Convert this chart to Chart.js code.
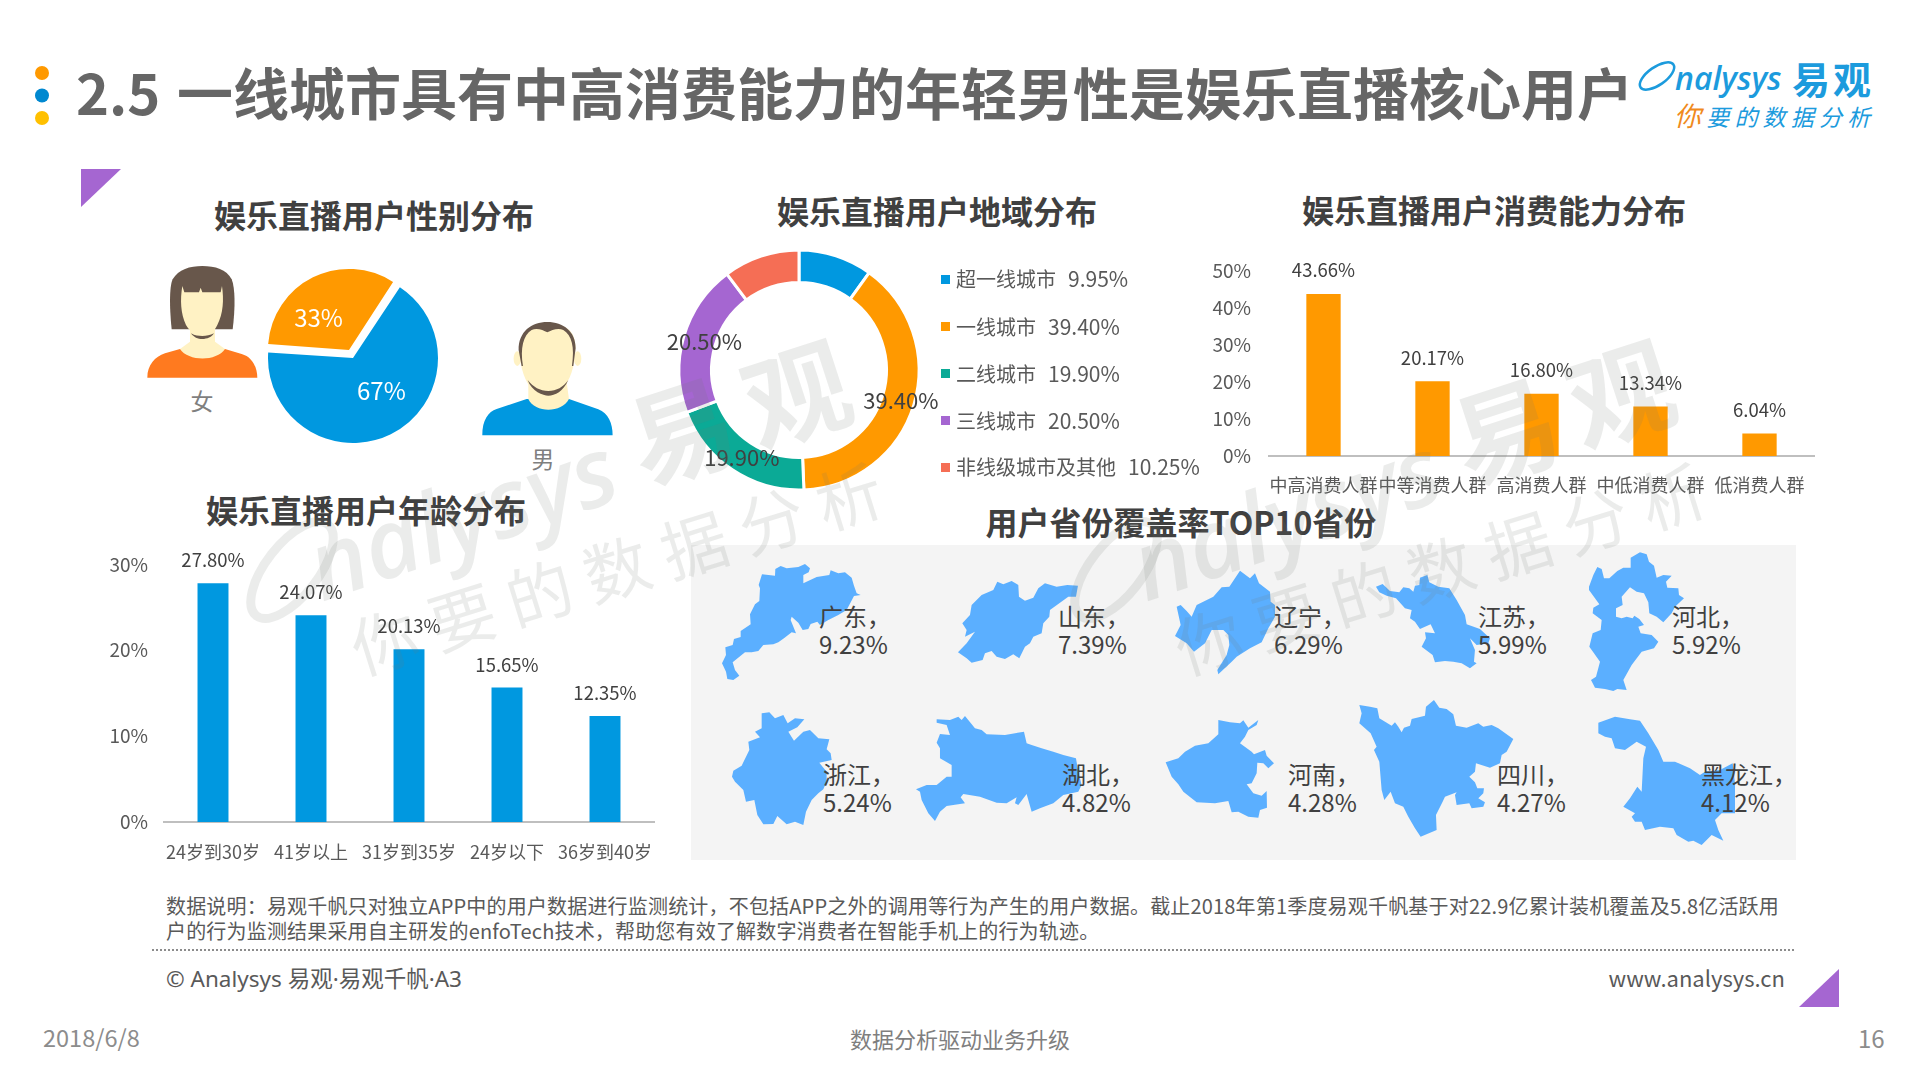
<!DOCTYPE html>
<html lang="zh-CN">
<head>
<meta charset="utf-8">
<title>2.5 一线城市具有中高消费能力的年轻男性是娱乐直播核心用户</title>
<script src="https://cdn.jsdelivr.net/npm/chart.js@4"></script>
<style>
    html, body { margin: 0; background: #fff; }
    #page {
        position: relative; width: 1920px; height: 1080px; overflow: hidden;
        font-family: "Noto Sans CJK SC", "Noto Sans", sans-serif; color: #595959;
    }
    #page > * { position: absolute; }
    canvas { display: block; }
    .t { white-space: pre; line-height: 1; transform: translateY(-50%); }
    .c { transform: translate(-50%, -50%); }
    .h2 { font-size: 32px; font-weight: 700; color: #404040; }
    .prov { font-size: 24px; line-height: 28px; color: #404040; white-space: pre; }
    .leg { font-size: 20px; }
    .leg span { font-size: 21px; margin-left: 12px; }
    .note { font-size: 20px; letter-spacing: 0.18px; }
    .mark { width: 9px; height: 9px; }
    #decor, #watermark { left: 0; top: 0; }
    #watermark { pointer-events: none; }
</style>
</head>
<body>
<div id="page">
    <!-- ornaments, figures and province outlines, below the charts -->
    <svg id="decor" width="1920" height="1080">
        <circle cx="42" cy="73" r="7" fill="#ff9900"/>
        <circle cx="42" cy="95.5" r="7" fill="#0088d0"/>
        <circle cx="42" cy="118" r="7" fill="#ffc000"/>
        <polygon points="81,169 121,169 81,207" fill="#a566d1"/>
        <polygon points="1839,969 1839,1007 1799,1007" fill="#a566d1"/>
        <rect x="691" y="545" width="1105" height="315" fill="#f4f4f4"/>
        <line x1="152" y1="950" x2="1794" y2="950" stroke="#8c8c8c" stroke-width="2" stroke-dasharray="2 2"/>

        <!-- logo -->
        <g fill="#1c9bdd">
            <ellipse cx="1657" cy="76" rx="20" ry="9" fill="none" stroke="#1c9bdd" stroke-width="2.5" transform="rotate(-35 1657 76)"/>
            <text x="1675" y="90" font-family="Open Sans" font-style="italic" font-weight="600" font-size="32">nalysys</text>
            <text x="1792" y="94" font-size="38" font-weight="700" letter-spacing="3">易观</text>
            <text x="1674" y="126" font-size="23" font-style="italic" letter-spacing="5.2"><tspan fill="#f08a1d" font-size="27">你</tspan>要的数据分析</text>
        </g>

        <!-- female figure -->
        <g transform="translate(130,250) scale(0.3333)">
            <path d="M125 238C118 170 118 110 128 88C145 58 180 48 217 48C255 48 290 58 305 88C316 115 316 175 308 238Z" fill="#68574b"/>
            <path d="M52 383C52 345 75 320 105 310L150 297L285 297L335 312C365 320 382 350 382 383Z" fill="#ff7a1f"/>
            <path d="M180 235L180 275L150 297C175 335 260 335 285 297L255 275L255 235Z" fill="#fff2c4"/>
            <path d="M157 108L163 127L207 127L212 113L217 127L272 127L276 108C282 150 280 190 262 225C250 250 230 262 217 262C200 262 180 245 168 225C152 190 150 150 157 108Z" fill="#fff2c4"/>
            <path d="M183 250C195 258 205 258 217 258C230 258 240 256 252 250C240 270 200 276 183 250Z" fill="#68574b"/>
        </g>

        <!-- male figure -->
        <g transform="translate(130,250) scale(0.3333)">
            <ellipse cx="1162" cy="326" rx="11" ry="22" fill="#fff2c4"/>
            <ellipse cx="1343" cy="326" rx="11" ry="22" fill="#fff2c4"/>
            <path d="M1057 556C1057 510 1075 485 1100 477L1190 447L1317 447L1405 478C1435 490 1448 520 1448 556Z" fill="#0098e0"/>
            <path d="M1195 395L1195 447C1215 490 1295 490 1317 447L1310 395Z" fill="#fff2c4"/>
            <path d="M1168 300C1170 350 1185 400 1210 420C1235 435 1270 435 1295 418C1320 395 1335 350 1337 290C1335 235 1300 220 1252 222C1205 222 1170 240 1168 300Z" fill="#fff2c4"/>
            <path d="M1175 348L1166 300C1165 245 1205 216 1252 216C1300 216 1338 245 1337 295L1330 348L1326 348C1335 290 1325 255 1300 240C1285 232 1265 240 1252 247C1240 240 1220 232 1205 240C1180 255 1170 295 1179 348Z" fill="#68574b"/>
            <path d="M1193 390C1205 425 1240 437 1255 437C1275 437 1300 425 1315 390C1300 412 1280 422 1255 423C1230 422 1210 412 1193 390Z" fill="#68574b"/>
        </g>

        <!-- province outlines, traced roughly -->
        <g fill="#5bafff">
            <g transform="translate(710,555) scale(0.3333)">
                <path d="M36 325L48 300L46 277L68 270L72 252L92 246L92 228L122 208L120 178L135 148L148 138L150 100L146 90L156 58L195 62L196 42L212 33L230 40L265 36L285 27L300 40L296 52L280 60L280 85L320 66L358 60L362 46L385 55L405 52L425 68L432 92L440 115L452 120L432 123L410 165L385 180L355 195L330 210L322 200L302 207L295 222L278 225L265 203L245 185L242 195L258 235L245 232L222 250L205 262L190 268L160 270L145 288L125 292L105 292L68 322L75 345L88 362L70 375L52 372L48 350Z"/>
                <path d="M744 292L770 265L795 230L765 245L770 225L757 205L780 180L785 150L815 120L850 105L862 80L880 88L905 78L925 90L927 125L945 137L970 128L985 100L1005 85L1040 95L1072 90L1104 92L1098 125L1075 125L1020 165L1018 185L1000 205L995 235L970 245L960 265L945 275L928 310L910 298L885 312L860 305L845 288L825 295L818 315L785 323L770 310Z"/>
            </g>
            <g transform="translate(1160,555) scale(0.3333)">
                <path d="M45 243L62 210L50 155L62 150L80 168L95 185L110 150L160 125L185 97L208 95L240 47L270 70L285 55L297 85L330 110L332 140L345 150L345 185L325 220L305 262L270 280L230 305L215 320L175 358L172 345L200 300L208 270L205 240L190 225L155 225L135 265L102 290L80 265Z"/>
                <path d="M648 95L668 87L690 108L718 112L730 97L748 100L760 110L765 92L778 90L780 68L802 60L808 82L835 95L868 100L890 135L915 180L920 208L960 222L990 250L985 265L950 270L930 250L945 285L942 320L950 325L930 340L905 325L880 320L855 318L825 322L818 300L785 275L798 250L795 232L825 235L812 208L780 222L765 200L750 190L755 165L735 160L708 130L680 122L658 112Z"/>
            </g>
            <g transform="translate(1580,545) scale(0.3333)">
                <path d="M27 125L40 90L52 66L65 72L72 100L88 100L112 78L130 68L152 68L152 38L180 22L200 28L207 50L222 62L230 98L250 90L275 92L258 110L262 128L295 130L297 150L312 160L285 185L275 205L250 232L230 215L208 205L205 172L192 145L170 140L150 127L125 155L128 180L108 190L108 215L125 220L140 215L158 220L163 212L178 222L192 240L175 245L182 265L215 270L235 290L222 310L185 320L155 360L130 405L140 435L112 432L100 438L75 432L45 428L33 405L48 395L60 350L42 325L28 305L38 265L62 255L65 225L38 205L40 188L58 178L27 135Z"/>
            </g>
            <g transform="translate(720,700) scale(0.3333)">
                <path d="M36 230L40 212L65 197L88 150L85 125L120 112L105 95L125 85L125 40L148 37L165 55L190 45L203 70L225 55L253 58L232 82L205 95L222 122L250 95L270 90L295 115L328 118L320 148L332 160L335 180L298 188L320 215L320 245L310 268L295 280L275 300L258 335L250 375L225 365L200 373L172 348L160 372L130 373L112 345L103 300L78 305L70 270L45 245Z"/>
                <path d="M588 268L620 255L650 255L680 230L695 230L695 195L660 175L660 145L650 128L660 102L690 105L680 75L650 68L650 58L690 60L715 50L725 60L735 48L765 85L785 90L800 103L855 105L912 95L920 130L935 135L965 145L1000 155L1030 165L1068 175L1075 215L1085 255L1075 275L1030 285L1000 310L960 325L935 335L925 300L920 282L895 315L885 310L890 292L860 310L830 308L780 290L730 282L722 292L735 310L700 315L680 318L660 335L645 363L625 340L605 300L600 275Z"/>
            </g>
            <g transform="translate(1150,695) scale(0.3333)">
                <path d="M47 202L85 190L105 170L135 152L175 145L205 118L205 75L240 82L270 85L280 76L295 98L325 75L320 90L295 105L285 125L270 145L305 170L312 178L345 165L350 182L372 205L355 220L340 205L322 203L320 235L305 265L290 268L310 295L335 302L350 288L351 338L330 345L325 368L295 365L265 350L245 352L235 318L195 325L140 322L100 290L85 268L65 245Z"/>
                <path d="M628 30L660 35L682 40L688 70L725 92L735 82L745 95L755 112L762 98L780 92L785 72L825 62L828 35L852 15L868 38L890 42L910 58L918 92L950 98L985 85L1000 95L1025 90L1045 100L1090 132L1070 170L1055 180L1050 205L1020 218L978 205L975 230L958 245L975 262L982 280L1002 280L1000 295L985 310L1005 322L1000 335L965 340L958 325L920 330L915 300L920 292L885 305L878 320L858 360L860 405L812 425L795 400L775 365L760 335L735 325L722 290L703 315L695 285L688 200L672 165L680 155L662 115L628 85L635 55Z"/>
            </g>
            <g transform="translate(1580,700) scale(0.3333)">
                <path d="M55 68L105 50L150 58L180 62L205 100L235 150L250 185L285 185L330 205L360 225L375 215L420 210L458 190L465 250L465 340L425 340L405 360L415 390L430 422L395 405L365 435L340 422L325 425L290 405L280 385L240 380L195 390L185 365L165 365L155 350L165 340L130 320L150 295L172 260L185 275L190 175L198 140L170 125L135 150L105 145L95 115L75 110L55 100Z"/>
            </g>
        </g>
    </svg>

    <div class="t" style="left:76px;top:91px;font-size:56px;font-weight:700;color:#666;word-spacing:4px">2.5 一线城市具有中高消费能力的年轻男性是娱乐直播核心用户</div>

    <div class="t c h2" style="left:374px;top:214px">娱乐直播用户性别分布</div>
    <div class="t c h2" style="left:937px;top:210px">娱乐直播用户地域分布</div>
    <div class="t c h2" style="left:1494px;top:209px">娱乐直播用户消费能力分布</div>
    <div class="t c h2" style="left:366px;top:509px">娱乐直播用户年龄分布</div>
    <div class="t c h2" style="left:1181px;top:521px">用户省份覆盖率TOP10省份</div>

    <div class="t c" style="left:202px;top:400px;font-size:23px;color:#7f7f7f">女</div>
    <div class="t c" style="left:543px;top:458px;font-size:23px;color:#7f7f7f">男</div>

    <canvas id="genderChart" width="190" height="190" style="left:256px;top:259px"></canvas>
    <canvas id="regionChart" width="300" height="250" style="left:649px;top:245px"></canvas>
    <canvas id="spendChart" width="640" height="269" style="left:1200px;top:241px"></canvas>
    <canvas id="ageChart" width="590" height="338" style="left:90px;top:537px"></canvas>

    <div class="t note" style="left:166px;top:906px">数据说明：易观千帆只对独立APP中的用户数据进行监测统计，不包括APP之外的调用等行为产生的用户数据。截止2018年第1季度易观千帆基于对22.9亿累计装机覆盖及5.8亿活跃用</div>
    <div class="t note" style="left:166px;top:931px">户的行为监测结果采用自主研发的enfoTech技术，帮助您有效了解数字消费者在智能手机上的行为轨迹。</div>
    <div class="t" style="left:166px;top:979px;font-size:22.5px;font-family:'Noto Sans','Noto Sans CJK SC',sans-serif">© Analysys 易观·易观千帆·A3</div>
    <div class="t" style="right:135px;top:977px;font-size:22px">www.analysys.cn</div>
    <div class="t" style="left:43px;top:1038px;font-size:23.5px;color:#8c8c8c">2018/6/8</div>
    <div class="t c" style="left:960px;top:1038px;font-size:22px;color:#7f7f7f">数据分析驱动业务升级</div>
    <div class="t" style="left:1858px;top:1038px;font-size:24px;color:#8c8c8c">16</div>

    <!-- watermark sits over everything, it darkens the bars in the reference -->
    <svg id="watermark" width="1920" height="1080">
        <defs>
            <g id="wm" fill="rgba(110,120,115,0.14)">
                <ellipse cx="292" cy="570" rx="58" ry="26" fill="none" stroke="rgba(110,120,115,0.14)" stroke-width="9" transform="rotate(-52 292 570)"/>
                <text x="322" y="602" font-family="Open Sans" font-style="italic" font-weight="600" font-size="96" transform="rotate(-19 322 602)">nalysys</text>
                <text x="748" y="450" font-size="105" font-weight="700" text-anchor="middle" letter-spacing="16" transform="rotate(-18 748 414)">易观</text>
                <text x="625" y="592" font-size="66" text-anchor="middle" letter-spacing="15" transform="rotate(-17.3 625 570)">你要的数据分析</text>
            </g>
        </defs>
        <use href="#wm"/>
        <use href="#wm" x="824"/>
    </svg>
</div>

<script>
// ========= data =========
const genderLabels = ["男", "女"];
const genderValues = [67, 33];

const regionLabels = ["超一线城市", "一线城市", "二线城市", "三线城市", "非线级城市及其他"];
const regionValues = [9.95, 39.40, 19.90, 20.50, 10.25];
const regionLabelled = [false, true, true, true, false]; // only these carry a label on the ring

const spendLabels = ["中高消费人群", "中等消费人群", "高消费人群", "中低消费人群", "低消费人群"];
const spendValues = [43.66, 20.17, 16.80, 13.34, 6.04];

const ageLabels = ["24岁到30岁", "41岁以上", "31岁到35岁", "24岁以下", "36岁到40岁"];
const ageValues = [27.80, 24.07, 20.13, 15.65, 12.35];

const provinceNames = ["广东", "山东", "辽宁", "江苏", "河北", "浙江", "湖北", "河南", "四川", "黑龙江"];
const provinceShares = [9.23, 7.39, 6.29, 5.99, 5.92, 5.24, 4.82, 4.28, 4.27, 4.12];

// ========= styles =========
const FONT = '"Noto Sans CJK SC", "Noto Sans", sans-serif';
const BLUE = "#0098e0";
const ORANGE = "#ff9900";
const regionColors = [BLUE, ORANGE, "#0baa96", "#a566d1", "#f56e55"];
const genderColors = [BLUE, ORANGE];
const genderLabelShift = [[8.5, -7], [-10.5, 8]];
const regionLabelShift = [[0, 0], [2.5, 1], [0, 1], [5, 1], [0, 0]];
const provinceLeft = [819, 1058, 1274, 1478, 1672, 823, 1062, 1288, 1497, 1701];
const legendRows = [278, 325.5, 372.5, 419.5, 466];

Chart.defaults.font.family = FONT;
Chart.defaults.animation = false;
Chart.defaults.responsive = false;
Chart.defaults.plugins.legend.display = false;
Chart.defaults.plugins.tooltip.enabled = false;

// value printed above every bar
const barValuePlugin = {
    id: "barValues",
    afterDatasetsDraw(chart, args, opts) {
        const ctx = chart.ctx;
        const values = chart.data.datasets[0].data;
        ctx.save();
        ctx.font = "18.5px " + FONT;
        ctx.fillStyle = "#404040";
        ctx.textAlign = "center";
        ctx.textBaseline = "middle";
        chart.getDatasetMeta(0).data.forEach((bar, i) => {
            ctx.fillText(values[i].toFixed(2) + "%", bar.x, bar.y - opts.gap);
        });
        ctx.restore();
    }
};

// labels on pie and ring
const arcLabelPlugin = {
    id: "arcLabels",
    afterDatasetsDraw(chart, args, opts) {
        const ctx = chart.ctx;
        const values = chart.data.datasets[0].data;
        ctx.save();
        ctx.font = opts.size + "px " + FONT;
        ctx.fillStyle = opts.color;
        ctx.textAlign = "center";
        ctx.textBaseline = "middle";
        chart.getDatasetMeta(0).data.forEach((arc, i) => {
            if (opts.show && !opts.show[i]) return;
            const pos = arc.tooltipPosition();
            const shift = opts.shift ? opts.shift[i] : [0, 0];
            ctx.fillText(opts.format(values[i]), pos.x + shift[0], pos.y + shift[1]);
        });
        ctx.restore();
    }
};

function barOptions(opts) {
    return {
        layout: { padding: { top: opts.top, right: 26 } },
        plugins: { barValues: { gap: opts.gap } },
        scales: {
            x: {
                grid: { display: false, drawTicks: false },
                border: { color: "#bfbfbf", width: 2 },
                afterFit: (s) => { s.height = opts.xHeight; },
                ticks: {
                    color: "#595959", font: { size: 18 }, padding: opts.xPad,
                    autoSkip: false, maxRotation: 0, minRotation: 0
                }
            },
            y: {
                min: 0,
                max: opts.max,
                grid: { display: false, drawTicks: false },
                border: { display: false },
                afterFit: (s) => { s.width = opts.yWidth; },
                ticks: {
                    stepSize: 10, color: "#595959", font: { size: 19 }, padding: opts.yPad,
                    callback: (v) => v + "%"
                }
            }
        }
    };
}

// ======================= GENDER PIE =======================
// arc offset is divided by 4 inside Chart.js and also grows the radius
new Chart(document.getElementById("genderChart"), {
    type: "pie",
    data: {
        labels: genderLabels,
        datasets: [{ data: genderValues, backgroundColor: genderColors, borderWidth: 0, offset: 18 }]
    },
    options: {
        radius: 80.5,
        rotation: 33,
        plugins: {
            arcLabels: { size: 24, color: "#fff", shift: genderLabelShift, format: (v) => v + "%" }
        }
    },
    plugins: [arcLabelPlugin]
});

// ======================= REGION RING =======================
new Chart(document.getElementById("regionChart"), {
    type: "doughnut",
    data: {
        labels: regionLabels,
        datasets: [{ data: regionValues, backgroundColor: regionColors, borderColor: "#fff", borderWidth: 3 }]
    },
    options: {
        radius: 120,
        cutout: 90,
        plugins: {
            arcLabels: {
                size: 22, color: "#404040", show: regionLabelled, shift: regionLabelShift,
                format: (v) => v.toFixed(2) + "%"
            }
        }
    },
    plugins: [arcLabelPlugin]
});

// ======================= SPENDING BARS =======================
new Chart(document.getElementById("spendChart"), {
    type: "bar",
    data: {
        labels: spendLabels,
        datasets: [{ data: spendValues, backgroundColor: ORANGE, categoryPercentage: 1, barPercentage: 0.315 }]
    },
    options: barOptions({ top: 12, max: 50, gap: 23.5, xHeight: 54, yWidth: 69, xPad: 18, yPad: 18 }),
    plugins: [barValuePlugin]
});

// ======================= AGE BARS =======================
new Chart(document.getElementById("ageChart"), {
    type: "bar",
    data: {
        labels: ageLabels,
        datasets: [{ data: ageValues, backgroundColor: BLUE, categoryPercentage: 1, barPercentage: 0.316 }]
    },
    options: barOptions({ top: 12, max: 30, gap: 23, xHeight: 53, yWidth: 74, xPad: 19, yPad: 16 }),
    plugins: [barValuePlugin]
});

// ======================= HTML LEGEND + PROVINCE TEXT =======================
const page = document.getElementById("page");
const watermark = document.getElementById("watermark");

regionLabels.forEach((name, i) => {
    const mark = document.createElement("div");
    mark.className = "mark";
    mark.style.cssText = `left:941px;top:${legendRows[i] - 3.5}px;background:${regionColors[i]}`;
    page.insertBefore(mark, watermark);

    const text = document.createElement("div");
    text.className = "t leg";
    text.style.cssText = `left:956px;top:${legendRows[i]}px`;
    text.textContent = name;
    const share = document.createElement("span");
    share.textContent = regionValues[i].toFixed(2) + "%";
    text.appendChild(share);
    page.insertBefore(text, watermark);
});

provinceNames.forEach((name, i) => {
    const div = document.createElement("div");
    div.className = "prov";
    div.style.cssText = `left:${provinceLeft[i]}px;top:${i < 5 ? 602 : 760}px`;
    div.textContent = name + "，\n" + provinceShares[i].toFixed(2) + "%";
    page.insertBefore(div, watermark);
});
</script>
</body>
</html>
